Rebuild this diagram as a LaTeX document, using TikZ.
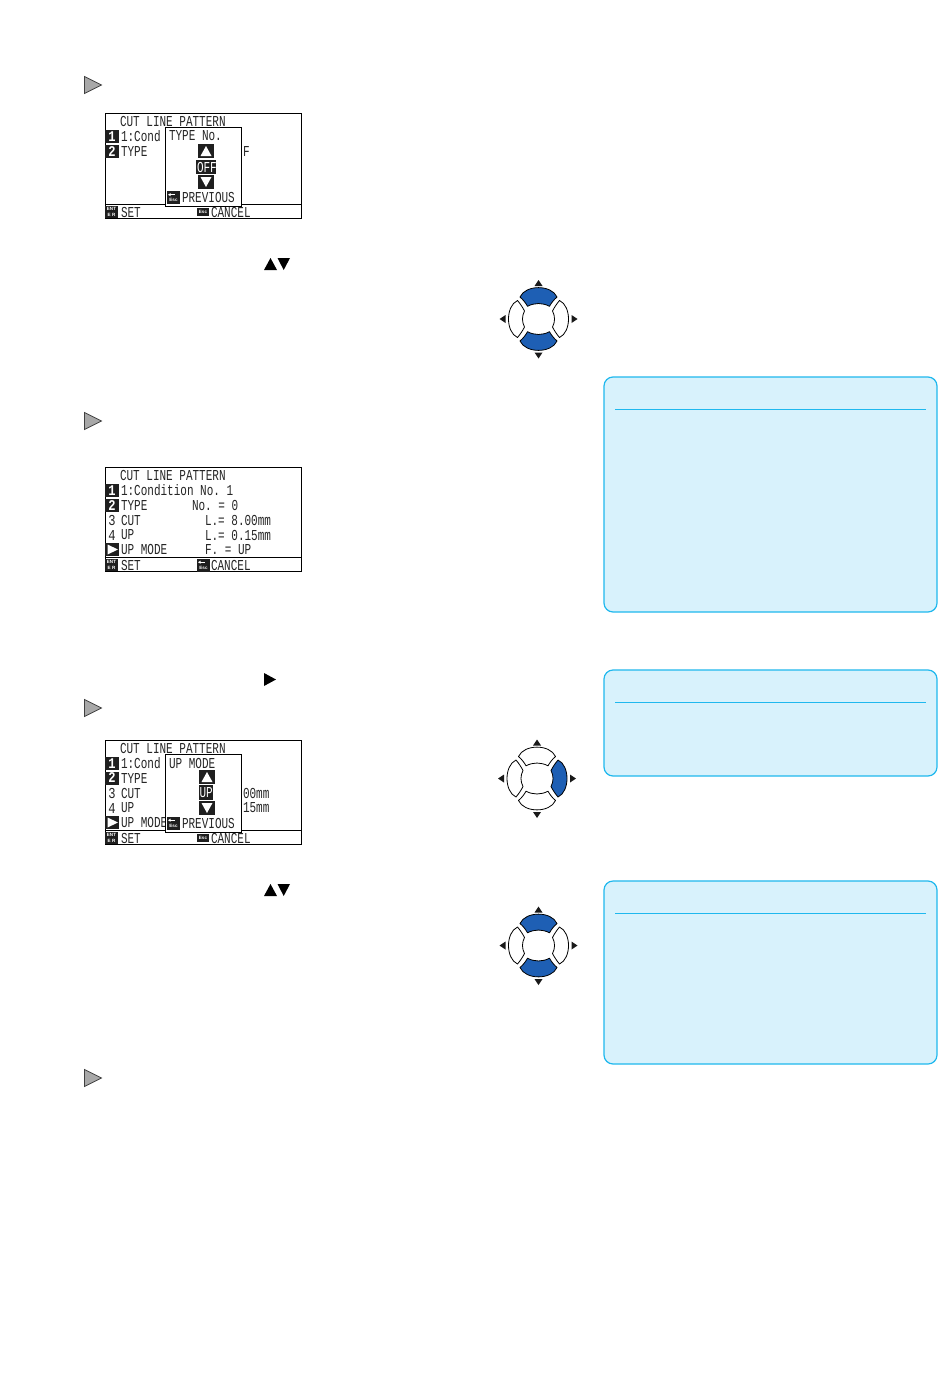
\documentclass[tikz,border=0pt]{standalone}
\usepackage{fontspec}
\usepackage{graphicx}
\setmonofont{Liberation Mono}
\setsansfont{Liberation Sans}
\definecolor{panelline}{HTML}{1FB8EE}
\definecolor{panelfill}{HTML}{D8F2FC}
\definecolor{padblue}{HTML}{1E5FB4}
\definecolor{lcdink}{HTML}{262626}
\definecolor{markgray}{HTML}{A8A8A8}
\tikzset{
  lcdtext/.style={anchor=west,inner sep=0pt,outer sep=0pt,text=lcdink,font=\fontsize{11}{11}\selectfont\ttfamily},
  screenbox/.style={draw=black,line width=0.9pt,fill=white},
  popupbox/.style={draw=black,line width=1.3pt,fill=white},
  invbox/.style={fill=black!88},
  keytext/.style={inner sep=0pt,outer sep=0pt,text=white,font=\fontsize{4.6}{4.6}\selectfont\sffamily\bfseries},
  numtext/.style={inner sep=0pt,outer sep=0pt,font=\fontsize{11}{11}\selectfont\ttfamily},
  stepmark/.style={draw=black!75,line width=0.7pt,fill=markgray},
  panelbox/.style={draw=panelline,line width=1.2pt,fill=panelfill,rounded corners=9pt},
  panelrule/.style={draw=panelline,line width=0.9pt},
  padoff/.style={draw=black,line width=0.8pt,fill=white,line join=round},
  padon/.style={draw=black,line width=0.8pt,fill=padblue,line join=round},
  keyarrow/.style={fill=black!90},
  padbtn/.pic={
    \path[pic actions] (-18.5,-22) .. controls (-13,-34.5) and (13,-34.5) .. (18.5,-22)
       .. controls (15,-19) and (12.5,-15.5) .. (11,-12.7)
       .. controls (4,-16.4) and (-4,-16.4) .. (-11,-12.7)
       .. controls (-12.5,-15.5) and (-15,-19) .. (-18.5,-22) -- cycle;
  },
  padside/.pic={
    \path[pic actions] (21,-18.5) .. controls (33,-13) and (33,13) .. (21,18.5)
       .. controls (18,15) and (15.5,11) .. (14,8)
       .. controls (16.7,3) and (16.7,-3) .. (14,-8)
       .. controls (15.5,-11) and (18,-15) .. (21,-18.5) -- cycle;
  },
}
% lcd text: name, x, y, text
\newcommand{\lcdt}[4]{\node[lcdtext] (#1) at (#2,#3) {\scalebox{1}[1.38]{#4}};}
% black numbered key: name, x, y, digit
\newcommand{\numkey}[4]{\fill[invbox] (#2,#3-6.5) rectangle (#2+14,#3+6.5);
  \node[numtext,text=white] (#1) at (#2+7,#3) {\scalebox{1.1}[1.35]{\textbf{#4}}};}
\newcommand{\plainkey}[4]{\node[numtext,text=lcdink] (#1) at (#2+7,#3) {\scalebox{1.1}[1.38]{#4}};}
\newcommand{\playkey}[2]{\fill[invbox] (#1,#2-6.5) rectangle (#1+14,#2+6.5);
  \fill[white] (#1+2.5,#2-5) -- (#1+13,#2) -- (#1+2.5,#2+5) -- cycle;}
\newcommand{\entkey}[3]{\fill[invbox] (#2,#3-6) rectangle (#2+13,#3+6);
  \node[keytext] (#1a) at (#2+6.5,#3-2.8) {ENT};
  \node[keytext] (#1b) at (#2+6.5,#3+2.8) {E R};}
\newcommand{\esclarge}[3]{\fill[invbox] (#2,#3-6.5) rectangle (#2+13,#3+6.5);
  \draw[white,line width=0.6pt] (#2+2,#3-2.8) -- (#2+8,#3-2.8);
  \fill[white] (#2+1,#3-2.8) -- (#2+3.5,#3-4.3) -- (#2+3.5,#3-1.3) -- cycle;
  \node[keytext] (#1) at (#2+6.5,#3+2.8) {Esc};}
\newcommand{\escsmall}[3]{\fill[invbox] (#2,#3-3.8) rectangle (#2+12,#3+3.8);
  \node[keytext] (#1) at (#2+6,#3) {Esc};}
\newcommand{\upbtn}[2]{\fill[invbox] (#1-8,#2-7) rectangle (#1+8,#2+7);
  \fill[white] (#1-5.5,#2+5) -- (#1,#2-5) -- (#1+5.5,#2+5) -- cycle;}
\newcommand{\downbtn}[2]{\fill[invbox] (#1-8,#2-7) rectangle (#1+8,#2+7);
  \fill[white] (#1-5.5,#2-5) -- (#1,#2+5) -- (#1+5.5,#2-5) -- cycle;}
\newcommand{\stepmk}[1]{\draw[stepmark] (84.5,#1-8.5) -- (101.5,#1) -- (84.5,#1+8.5) -- cycle;}
% pad: cx, cy, top, right, bottom, left styles
\newcommand{\dpad}[6]{
  \pic[#3,shift={(#1,#2)}] {padbtn};
  \pic[#4,shift={(#1,#2)}] {padside};
  \pic[#5,shift={(#1,#2)},yscale=-1] {padbtn};
  \pic[#6,shift={(#1,#2)},xscale=-1] {padside};
  \fill[keyarrow] (#1-4,#2-33) -- (#1,#2-39) -- (#1+4,#2-33) -- cycle;
  \fill[keyarrow] (#1-4,#2+33.5) -- (#1,#2+39.5) -- (#1+4,#2+33.5) -- cycle;
  \fill[keyarrow] (#1-33,#2-4) -- (#1-39,#2) -- (#1-33,#2+4) -- cycle;
  \fill[keyarrow] (#1+33,#2-4) -- (#1+39,#2) -- (#1+33,#2+4) -- cycle;
}
\begin{document}
\begin{tikzpicture}[x=1pt,y=-1pt]
\useasboundingbox (0,0) rectangle (950,1397);
\fill[white] (0,0) rectangle (950,1397);

% step marks
\stepmk{85}\stepmk{421}\stepmk{708}\stepmk{1078}

% key glyphs in the running text
\fill[black] (264,270) -- (270.5,258) -- (277,270) -- cycle;
\fill[black] (277.5,258) -- (290,258) -- (283.7,270) -- cycle;
\fill[black] (264,673) -- (276,679.5) -- (264,686) -- cycle;
\fill[black] (264,896) -- (270.5,884) -- (277,896) -- cycle;
\fill[black] (277.5,884) -- (290,884) -- (283.7,896) -- cycle;

% screen 1
\draw[screenbox] (105.5,113.5) rectangle (301.5,218.5);
\draw[black,line width=0.7pt] (105.5,204.5) -- (301.5,204.5);
\lcdt{a1}{120}{121}{CUT LINE PATTERN}
\numkey{a2}{105}{136.5}{1}
\lcdt{a3}{121}{136.5}{1:Cond}
\numkey{a4}{105}{151.5}{2}
\lcdt{a5}{121}{151.5}{TYPE}
\lcdt{a6}{243}{151.5}{F}
\entkey{a7}{105}{212}
\lcdt{a8}{121}{212}{SET}
\escsmall{a9}{197}{212}
\lcdt{a10}{211}{212}{CANCEL}
\draw[popupbox] (165.5,127.5) rectangle (241.5,206.5);
\lcdt{a11}{169}{136}{TYPE No.}
\upbtn{206}{151}
\fill[invbox] (196,160) rectangle (216,174);
\node[lcdtext,text=white] (a12) at (197,167) {\scalebox{1}[1.38]{OFF}};
\downbtn{206}{182}
\esclarge{a13}{167}{197.5}
\lcdt{a14}{182}{197.5}{PREVIOUS}

% screen 2
\draw[screenbox] (105.5,467.5) rectangle (301.5,571.5);
\draw[black,line width=0.7pt] (105.5,557.5) -- (301.5,557.5);
\lcdt{b1}{120}{475.5}{CUT LINE PATTERN}
\numkey{b2}{105}{490.5}{1}
\lcdt{b3}{121}{490.5}{1:Condition No. 1}
\numkey{b4}{105}{505.5}{2}
\lcdt{b5}{121}{505.5}{TYPE}
\lcdt{b6}{192}{505.5}{No. = 0}
\plainkey{b7}{105}{520.5}{3}
\lcdt{b8}{121}{520.5}{CUT}
\lcdt{b9}{205}{520.5}{L.= 8.00mm}
\plainkey{b10}{105}{535}{4}
\lcdt{b11}{121}{535}{UP}
\lcdt{b12}{205}{535}{L.= 0.15mm}
\playkey{105}{549.5}
\lcdt{b13}{121}{549.5}{UP MODE}
\lcdt{b14}{205}{549.5}{F. = UP}
\entkey{b15}{105}{565}
\lcdt{b16}{121}{565}{SET}
\esclarge{b17}{197}{565}
\lcdt{b18}{211}{565}{CANCEL}

% screen 3
\draw[screenbox] (105.5,740.5) rectangle (301.5,844.5);
\draw[black,line width=0.7pt] (105.5,830.5) -- (301.5,830.5);
\lcdt{c1}{120}{748.5}{CUT LINE PATTERN}
\numkey{c2}{105}{763.5}{1}
\lcdt{c3}{121}{763.5}{1:Cond}
\numkey{c4}{105}{778}{2}
\lcdt{c5}{121}{778}{TYPE}
\plainkey{c6}{105}{793}{3}
\lcdt{c7}{121}{793}{CUT}
\lcdt{c8}{243}{793}{00mm}
\plainkey{c9}{105}{808}{4}
\lcdt{c10}{121}{808}{UP}
\lcdt{c11}{243}{808}{15mm}
\playkey{105}{822.5}
\lcdt{c12}{121}{822.5}{UP MODE}
\entkey{c13}{105}{838}
\lcdt{c14}{121}{838}{SET}
\escsmall{c15}{197}{838}
\lcdt{c16}{211}{838}{CANCEL}
\draw[popupbox] (165.5,754.5) rectangle (241.5,832.5);
\lcdt{c17}{169}{763}{UP MODE}
\upbtn{207}{777}
\fill[invbox] (199,785) rectangle (213,800);
\node[lcdtext,text=white] (c18) at (199.5,792.5) {\scalebox{1}[1.38]{UP}};
\downbtn{207}{808}
\esclarge{c19}{167}{823}
\lcdt{c20}{182}{823}{PREVIOUS}

% navigation pads
\dpad{538.5}{319}{padon}{padoff}{padon}{padoff}
\dpad{537}{778.5}{padoff}{padon}{padoff}{padoff}
\dpad{538.5}{945.5}{padon}{padoff}{padon}{padoff}

% panels
\draw[panelbox] (604,377) rectangle (937,612);
\draw[panelrule] (615,409.5) -- (926,409.5);
\draw[panelbox] (604,670) rectangle (937,776);
\draw[panelrule] (615,702.5) -- (926,702.5);
\draw[panelbox] (604,881) rectangle (937,1064);
\draw[panelrule] (615,913.5) -- (926,913.5);
\end{tikzpicture}
\end{document}
